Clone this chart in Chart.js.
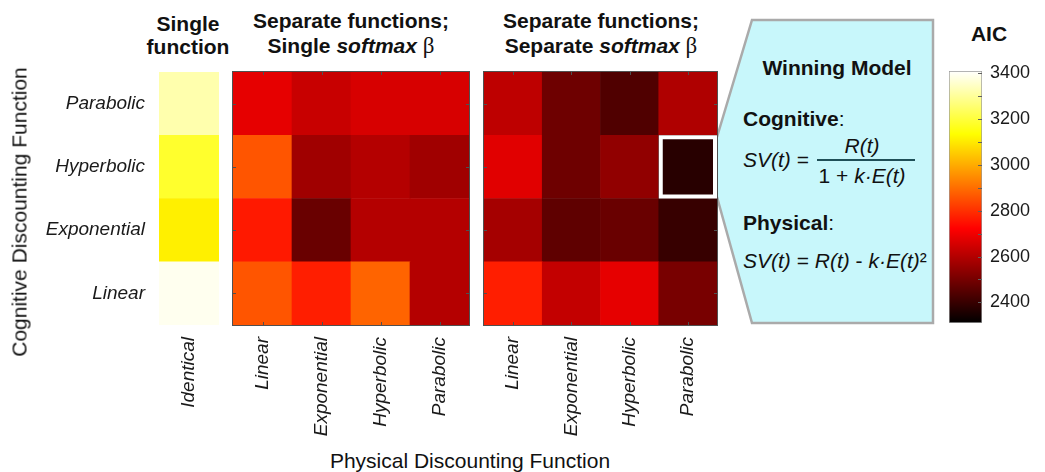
<!DOCTYPE html>
<html>
<head>
<meta charset="utf-8">
<script src="https://cdn.jsdelivr.net/npm/chart.js"></script>
<style>
  body { margin: 0; width: 1045px; height: 472px; background: #fff; position: relative; overflow: hidden;
         font-family: "Liberation Sans", Arial, sans-serif; color: #111; }
  canvas, .txt, svg { position: absolute; }
  .txt { white-space: nowrap; font-size: 21px; line-height: 21px; }
  .ttl { position: absolute; text-align: center; font-weight: bold; font-size: 21px; line-height: 25px; white-space: nowrap; }
  .beta { font-family: "Liberation Serif", serif; font-weight: normal; font-size: 23px; }
  .rot { transform: translate(-50%, -50%) rotate(-90deg); }
</style>
</head>
<body>
<!-- call-out behind everything -->
<svg width="1045" height="472" style="left:0;top:0">
  <polygon points="717,137 752,20 933,20 933,323 752,323 717,197" fill="#c8f7fb"/>
  <polyline points="717,137 752,20 933,20 933,323 752,323 717,197" fill="none" stroke="#aaaaaa" stroke-width="2.5"/>
</svg>

<canvas id="single" width="219" height="368" style="left:0;top:72px"></canvas>
<canvas id="shared" width="238" height="369" style="left:232px;top:71px"></canvas>
<canvas id="separate" width="235" height="369" style="left:483px;top:71px"></canvas>
<canvas id="cbar" width="94" height="272" style="left:948px;top:61px"></canvas>

<!-- panel titles -->
<div class="ttl" style="left:128px;top:12px;width:120px;line-height:23px">Single<br>function</div>
<div class="ttl" style="left:221px;top:8px;width:260px">Separate functions;<br>Single <i>softmax</i> <span class="beta">β</span></div>
<div class="ttl" style="left:471px;top:8px;width:260px">Separate functions;<br>Separate <i>softmax</i> <span class="beta">β</span></div>

<!-- axis titles -->
<div class="txt rot" style="left:19px;top:212px">Cognitive Discounting Function</div>
<div class="txt" style="left:320px;top:450px;width:300px;text-align:center">Physical Discounting Function</div>

<!-- winning model call-out -->
<div class="txt" style="left:737px;top:57px;width:200px;text-align:center;font-weight:bold">Winning Model</div>
<div class="txt" style="left:743px;top:108px"><b>Cognitive</b>:</div>
<div class="txt" style="left:743px;top:149px"><i>SV(t)</i> =</div>
<div class="txt" style="left:812px;top:135px;width:100px;text-align:center"><i>R(t)</i></div>
<div style="position:absolute;left:817px;top:159px;width:98px;height:2px;background:#1f4f57"></div>
<div class="txt" style="left:802px;top:165px;width:120px;text-align:center">1 + <i>k·E(t)</i></div>
<div class="txt" style="left:743px;top:212px"><b>Physical</b>:</div>
<div class="txt" style="left:743px;top:250px"><i>SV(t)</i> = <i>R(t)</i> - <i>k·E(t)</i>²</div>

<div class="txt" style="left:959px;top:23px;width:60px;text-align:center;font-weight:bold">AIC</div>

<script>
// rows go bottom -> top, like the matrix rows in the figure
const cogRows = ['Linear', 'Exponential', 'Hyperbolic', 'Parabolic'];
const physCols = ['Linear', 'Exponential', 'Hyperbolic', 'Parabolic'];
const singleCols = ['Identical'];

// AIC (one row per cognitive function)
const singleAIC = [3393, 3110, 3184, 3322];
const sharedBetaAIC = [
  [2860, 2771, 2884, 2601],
  [2763, 2480, 2601, 2601],
  [2860, 2569, 2601, 2569],
  [2682, 2633, 2657, 2657]
];
const separateBetaAIC = [
  [2771, 2626, 2682, 2504],
  [2577, 2464, 2480, 2399],
  [2674, 2488, 2544, 2375],
  [2617, 2488, 2440, 2593]
];
const winnerRow = 2; // Hyperbolic (cognitive)
const winnerCol = 3; // Parabolic (physical)

const aicMin = 2310, aicMax = 3410;
const cbLabels = [2400, 2600, 2800, 3000, 3200, 3400];
const cbMinor = [2400, 2500, 2600, 2700, 2800, 2900, 3000, 3100, 3200, 3300, 3400];

// matlab 'hot' colormap
function hotRGB(t) {
  t = Math.min(1, Math.max(0, t));
  const r = Math.min(1, t / 0.375);
  const g = Math.min(1, Math.max(0, (t - 0.375) / 0.375));
  const b = Math.max(0, (t - 0.75) / 0.25);
  return 'rgb(' + Math.round(r * 255) + ',' + Math.round(g * 255) + ',' + Math.round(b * 255) + ')';
}
function hot(v) { return hotRGB((v - aicMin) / (aicMax - aicMin)); }

const tickFont = { family: 'Liberation Sans', style: 'italic', size: 19 };

// box + little inner tick marks, like a matlab axes
const framePlugin = {
  id: 'frame',
  afterDatasetsDraw(chart) {
    const { ctx, chartArea: a, scales: { x, y } } = chart;
    ctx.save();
    ctx.strokeStyle = '#505050';
    ctx.lineWidth = 1;
    ctx.beginPath();
    x.ticks.forEach((_, i) => {
      const px = Math.round(x.getPixelForTick(i)) + 0.5;
      ctx.moveTo(px, a.bottom); ctx.lineTo(px, a.bottom - 3);
      ctx.moveTo(px, a.top); ctx.lineTo(px, a.top + 3);
    });
    cogRows.forEach((_, r) => {
      const py = Math.round(y.getPixelForValue(r + 0.5)) + 0.5;
      ctx.moveTo(a.left, py); ctx.lineTo(a.left + 3, py);
      ctx.moveTo(a.right, py); ctx.lineTo(a.right - 3, py);
    });
    ctx.stroke();
    ctx.strokeRect(a.left - 0.5, a.top - 0.5, a.width + 1, a.height + 1);
    ctx.restore();
  }
};

const winnerPlugin = {
  id: 'winner',
  afterDatasetsDraw(chart) {
    const bar = chart.getDatasetMeta(winnerRow).data[winnerCol];
    const { x, y, base, width } = bar.getProps(['x', 'y', 'base', 'width'], true);
    const ctx = chart.ctx;
    ctx.save();
    ctx.strokeStyle = '#ffffff';
    ctx.lineWidth = 4;
    ctx.strokeRect(x - width / 2 + 2, y + 2, width - 4, base - y - 4);
    ctx.restore();
  }
};

function heatmap(id, cols, grid, showRows, padding, plugins) {
  return new Chart(document.getElementById(id), {
    type: 'bar',
    data: {
      labels: cols,
      datasets: cogRows.map((row, r) => ({
        label: row,
        data: cols.map(() => [r, r + 1]),
        backgroundColor: grid[r].map(hot),
        borderWidth: 0,
        grouped: false,
        barPercentage: 1,
        categoryPercentage: 1
      }))
    },
    options: {
      responsive: false,
      animation: false,
      layout: { padding: padding },
      plugins: { legend: { display: false }, tooltip: { enabled: false } },
      scales: {
        x: {
          grid: { display: false, drawTicks: false },
          border: { display: false },
          ticks: { autoSkip: false, minRotation: 90, maxRotation: 90, padding: 12, color: '#1a1a1a', font: tickFont },
          afterFit: s => { s.height = 115; s.paddingLeft = 0; s.paddingRight = 0; }
        },
        y: {
          display: showRows,
          min: 0,
          max: cogRows.length,
          grid: { display: false, drawTicks: false },
          border: { display: false },
          afterBuildTicks: s => { s.ticks = cogRows.map((_, i) => ({ value: i + 0.5 })); },
          ticks: { padding: 14, color: '#1a1a1a', font: tickFont, callback: (v, i) => cogRows[i] },
          afterFit: s => { s.width = showRows ? 159 : 0; s.paddingTop = 0; s.paddingBottom = 0; }
        }
      }
    },
    plugins: plugins
  });
}

heatmap('single', singleCols, singleAIC.map(v => [v]), true, 0, []);
heatmap('shared', physCols, sharedBetaAIC, false, { left: 1, right: 1, top: 1 }, [framePlugin]);
heatmap('separate', physCols, separateBetaAIC, false, { left: 1, right: 1, top: 1 }, [framePlugin, winnerPlugin]);

// colour bar
const cbTicksPlugin = {
  id: 'cbTicks',
  afterDatasetsDraw(chart) {
    const { ctx, chartArea: a, scales: { y } } = chart;
    ctx.save();
    ctx.strokeStyle = '#606060';
    ctx.lineWidth = 1;
    ctx.beginPath();
    cbMinor.forEach(v => {
      const py = Math.round(y.getPixelForValue(v)) + 0.5;
      ctx.moveTo(a.right, py); ctx.lineTo(a.right - 4, py);
    });
    ctx.stroke();
    ctx.restore();
  }
};

new Chart(document.getElementById('cbar'), {
  type: 'bar',
  data: {
    labels: ['AIC'],
    datasets: [{
      data: [[aicMin, aicMax]],
      backgroundColor: c => {
        const { chart } = c;
        if (!chart.chartArea) return '#000';
        const y = chart.scales.y;
        const g = chart.ctx.createLinearGradient(0, y.getPixelForValue(aicMin), 0, y.getPixelForValue(aicMax));
        for (let k = 0; k <= 40; k++) g.addColorStop(k / 40, hotRGB(k / 40));
        return g;
      },
      borderColor: '#9a9a9a',
      borderWidth: 1,
      borderSkipped: false,
      barPercentage: 1,
      categoryPercentage: 1
    }]
  },
  options: {
    responsive: false,
    animation: false,
    layout: { padding: { left: 1, top: 10, bottom: 10 } },
    plugins: { legend: { display: false }, tooltip: { enabled: false } },
    scales: {
      x: { display: false },
      y: {
        position: 'right',
        min: aicMin,
        max: aicMax,
        grid: { display: false, drawTicks: false },
        border: { display: false },
        afterBuildTicks: s => { s.ticks = cbMinor.map(v => ({ value: v })); },
        ticks: { padding: 8, color: '#1a1a1a', font: { family: 'Liberation Sans', size: 18 },
                 callback: v => cbLabels.includes(v) ? String(v) : '' },
        afterFit: s => { s.width = 60; s.paddingTop = 0; s.paddingBottom = 0; }
      }
    }
  },
  plugins: [cbTicksPlugin]
});
</script>
</body>
</html>
